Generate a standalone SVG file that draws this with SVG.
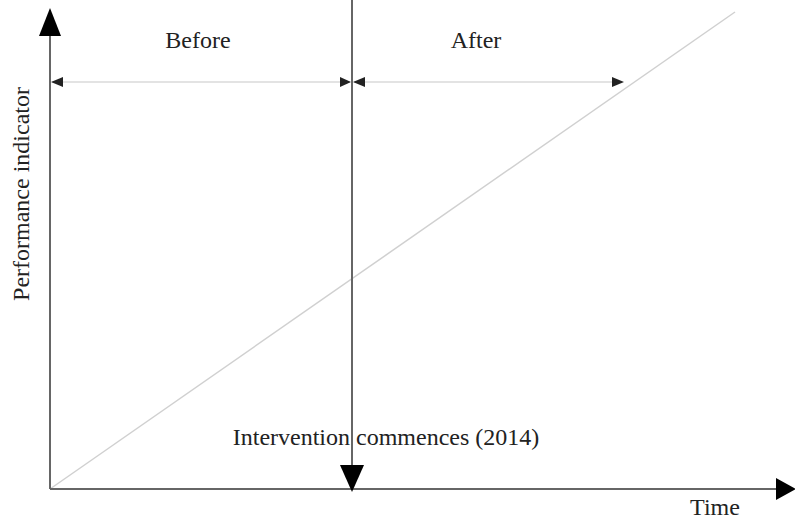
<svg xmlns="http://www.w3.org/2000/svg" width="795" height="523" viewBox="0 0 795 523">
<style>
.t{font-family:"Liberation Serif",serif;font-size:24px;fill:#222}
.ax{stroke:#666;stroke-width:2;fill:none}
.thin{stroke:#c8c8c8;stroke-width:1.2;fill:none}
.diag{stroke:#d0d0d0;stroke-width:1.5;fill:none}
.head{fill:#000}
.small{fill:#222}
</style>
<rect width="795" height="523" fill="#fff"/>
<g id="connectors">
<line class="diag" x1="50" y1="489" x2="735" y2="12"/>
<line class="ax" x1="50" y1="489" x2="50" y2="30"/>
<polygon class="head" points="50,8 39,36 61,36"/>
<line class="ax" x1="50" y1="489" x2="778" y2="489"/>
<polygon class="head" points="796,489 776,478 776,500"/>
<line class="ax" x1="352" y1="0" x2="352" y2="470"/>
<polygon class="head" points="352,492 340,465 364,465"/>
<line class="thin" x1="52" y1="82" x2="350" y2="82"/>
<polygon class="small" points="51,82 63,77 63,87"/>
<polygon class="small" points="351,82 340,77 340,87"/>
<line class="thin" x1="354" y1="82" x2="615" y2="82"/>
<polygon class="small" points="353,82 365,77 365,87"/>
<polygon class="small" points="624,82 612,77 612,87"/>
</g>
<g id="before"><text class="t" x="198" y="48" text-anchor="middle">Before</text></g>
<g id="after"><text class="t" x="476" y="48" text-anchor="middle">After</text></g>
<g id="intervention"><text class="t" x="386" y="445" text-anchor="middle">Intervention commences (2014)</text></g>
<g id="time"><text class="t" x="715" y="515" text-anchor="middle">Time</text></g>
<g id="ylabel"><text class="t" transform="translate(29,194) rotate(-90)" text-anchor="middle">Performance indicator</text></g>
</svg>
